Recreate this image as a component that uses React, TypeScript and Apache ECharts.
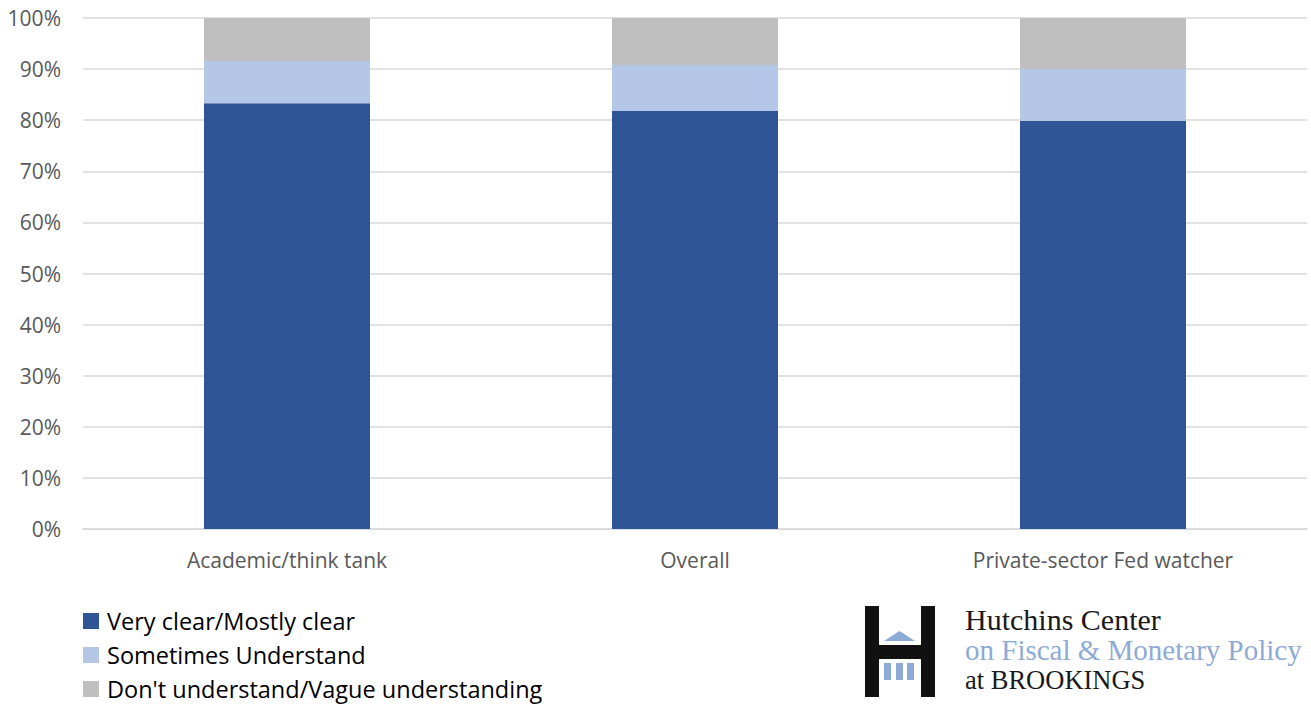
import React, { useEffect, useRef } from "react";
import * as echarts from "echarts";

// Survey respondent groups
const categories = ["Academic/think tank", "Overall", "Private-sector Fed watcher"];

// Share of respondents (%) per answer
const veryClear = [83.3, 81.8, 79.9];
const sometimes = [8.3, 9.0, 10.1];
const dontUnderstand = [8.4, 9.2, 10.0];

const seriesNames = [
  "Very clear/Mostly clear",
  "Sometimes Understand",
  "Don't understand/Vague understanding",
];

const yTicks = [0, 10, 20, 30, 40, 50, 60, 70, 80, 90, 100];

const COLORS = ["#2f5597", "#b4c7e7", "#bfbfbf"];
const LOGO_BLUE = "#8eaad6";

export default function App() {
  const ref = useRef<HTMLDivElement>(null);

  useEffect(() => {
    if (!ref.current) return;
    const chart = echarts.init(ref.current, null, { renderer: "svg" });
    const values = [veryClear, sometimes, dontUnderstand];

    chart.setOption({
      animation: false,
      backgroundColor: "#ffffff",
      grid: { left: 83, right: 4, top: 18, bottom: 176, containLabel: false },
      legend: {
        orient: "vertical",
        left: 83,
        top: 607,
        height: 98,
        padding: 0,
        icon: "rect",
        itemWidth: 16,
        itemHeight: 16,
        itemGap: 6,
        selectedMode: false,
        data: seriesNames,
        textStyle: {
          fontFamily: "Open Sans",
          fontSize: 23.5,
          lineHeight: 28,
          color: "#000000",
          padding: [0, 0, 0, 3],
        },
      },
      xAxis: {
        type: "category",
        data: categories,
        axisLine: { show: true, lineStyle: { color: "#d9d9d9", width: 1.5 } },
        axisTick: { show: false },
        axisLabel: {
          fontFamily: "Open Sans",
          fontSize: 21,
          color: "#595959",
          margin: 20,
        },
      },
      yAxis: {
        type: "value",
        min: yTicks[0],
        max: yTicks[yTicks.length - 1],
        interval: 10,
        axisLine: { show: false },
        axisTick: { show: false },
        splitLine: { lineStyle: { color: "#d9d9d9", width: 1.5 } },
        axisLabel: {
          fontFamily: "Open Sans",
          fontSize: 21,
          color: "#595959",
          margin: 22,
          formatter: (v: number) => `${v}%`,
        },
      },
      series: seriesNames.map((name, i) => ({
        name,
        type: "bar",
        stack: "total",
        barWidth: 166,
        data: values[i],
        itemStyle: { color: COLORS[i] },
      })),
      graphic: [
        // Hutchins Center mark: black "H" with a blue building inside
        { type: "rect", shape: { x: 865, y: 606, width: 14, height: 91 }, style: { fill: "#111111" } },
        { type: "rect", shape: { x: 921, y: 606, width: 14, height: 91 }, style: { fill: "#111111" } },
        { type: "rect", shape: { x: 865, y: 645, width: 70, height: 14 }, style: { fill: "#111111" } },
        {
          type: "polygon",
          shape: { points: [[884, 641], [899.5, 631], [915, 641]] },
          style: { fill: LOGO_BLUE },
        },
        { type: "rect", shape: { x: 884, y: 663, width: 7, height: 17 }, style: { fill: LOGO_BLUE } },
        { type: "rect", shape: { x: 896, y: 663, width: 7, height: 17 }, style: { fill: LOGO_BLUE } },
        { type: "rect", shape: { x: 907, y: 663, width: 7, height: 17 }, style: { fill: LOGO_BLUE } },
        // Wordmark, three lines in one text block
        {
          type: "text",
          x: 965,
          y: 604.5,
          style: {
            text: "{a|Hutchins Center}\n{b|on Fiscal & Monetary Policy}\n{c|at BROOKINGS}",
            fontFamily: "Liberation Serif",
            textVerticalAlign: "top",
            rich: {
              a: { fontFamily: "Liberation Serif", fontSize: 30, lineHeight: 30, fill: "#1a1a1a" },
              b: { fontFamily: "Liberation Serif", fontSize: 29, lineHeight: 30, fill: LOGO_BLUE },
              c: { fontFamily: "Liberation Serif", fontSize: 26.5, lineHeight: 30.1, fill: "#1a1a1a" },
            },
          },
        },
      ],
    });

    return () => chart.dispose();
  }, []);

  return (
    <div
      ref={ref}
      style={{ position: "absolute", left: 0, top: 0, width: 1311, height: 705 }}
    />
  );
}
